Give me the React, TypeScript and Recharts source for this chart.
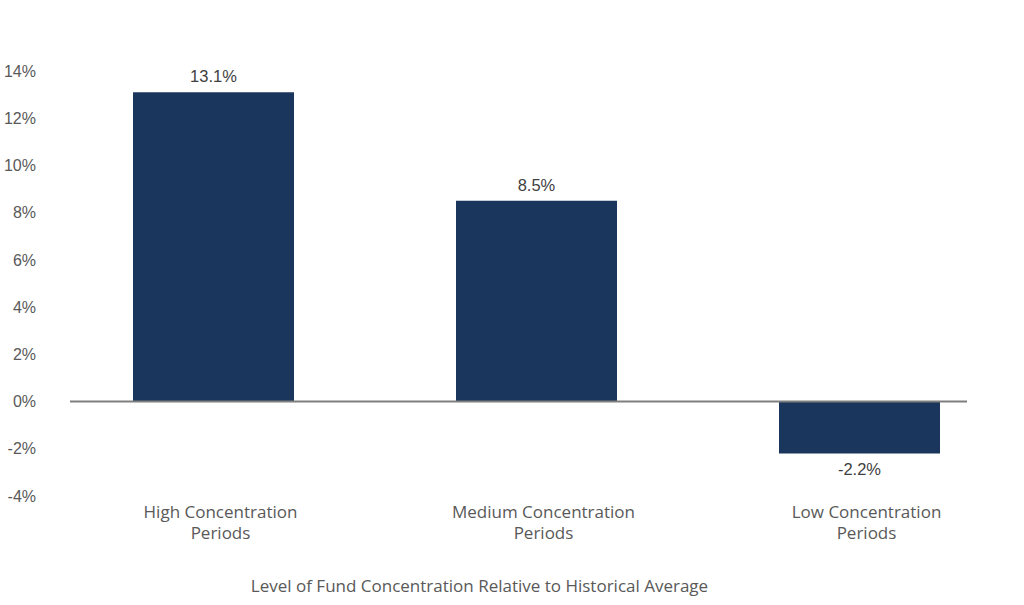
import { BarChart, Bar, XAxis, YAxis, ReferenceLine, LabelList } from 'recharts';

const categories = ['High Concentration Periods', 'Medium Concentration Periods', 'Low Concentration Periods'];
const returns = [13.1, 8.5, -2.2];
const yTicks = [-4, -2, 0, 2, 4, 6, 8, 10, 12, 14];
const xTitle = 'Level of Fund Concentration Relative to Historical Average';

const data = categories.map((name, i) => ({ name, value: returns[i] }));

const BAR_COLOR = '#1b365d';
const AXIS_TEXT = '#595959';
const SANS = '"Open Sans", "Noto Sans", sans-serif';
const ARIAL = '"Liberation Sans", Arial, sans-serif';

function CategoryTick(props: any) {
  const { x, y, payload } = props;
  const words = String(payload.value).split(' ');
  const last = words.pop();
  const first = words.join(' ');
  return (
    <text x={x} y={y} textAnchor="middle" fill={AXIS_TEXT} fontFamily={SANS} fontSize={17}>
      <tspan x={x + 7} dy={22}>{first}</tspan>
      <tspan x={x + 7} dy={21}>{last}</tspan>
    </text>
  );
}

export default function App() {
  return (
    <div style={{ position: 'absolute', left: 0, top: 0, background: '#fff' }}>
      <BarChart
        width={1024}
        height={605}
        data={data}
        margin={{ top: 71, right: 57, left: 0, bottom: 0 }}
      >
        <YAxis
          width={70}
          domain={[-4, 14]}
          ticks={yTicks}
          interval={0}
          axisLine={false}
          tickLine={false}
          tickSize={0}
          tickMargin={34}
          tickFormatter={(v: number) => `${v}%`}
          tick={{ fill: AXIS_TEXT, fontSize: 16, fontFamily: ARIAL }}
        />
        <XAxis
          dataKey="name"
          height={109}
          axisLine={false}
          tickLine={false}
          tickSize={0}
          tickMargin={0}
          interval={0}
          padding={{ left: -18, right: -54 }}
          tick={<CategoryTick />}
          label={{
            value: xTitle,
            position: 'insideBottom',
            offset: 13,
            dx: -39,
            fill: AXIS_TEXT,
            fontSize: 17,
            fontFamily: SANS,
          }}
        />
        <Bar dataKey="value" fill={BAR_COLOR} barSize={161} isAnimationActive={false}>
          <LabelList
            dataKey="value"
            position="top"
            offset={10}
            formatter={(v: any) => `${Number(v).toFixed(1)}%`}
            fill="#404040"
            fontSize={16.5}
            fontFamily={ARIAL}
          />
        </Bar>
        <ReferenceLine y={0} stroke="#7f7f7f" strokeWidth={2} />
      </BarChart>
    </div>
  );
}
